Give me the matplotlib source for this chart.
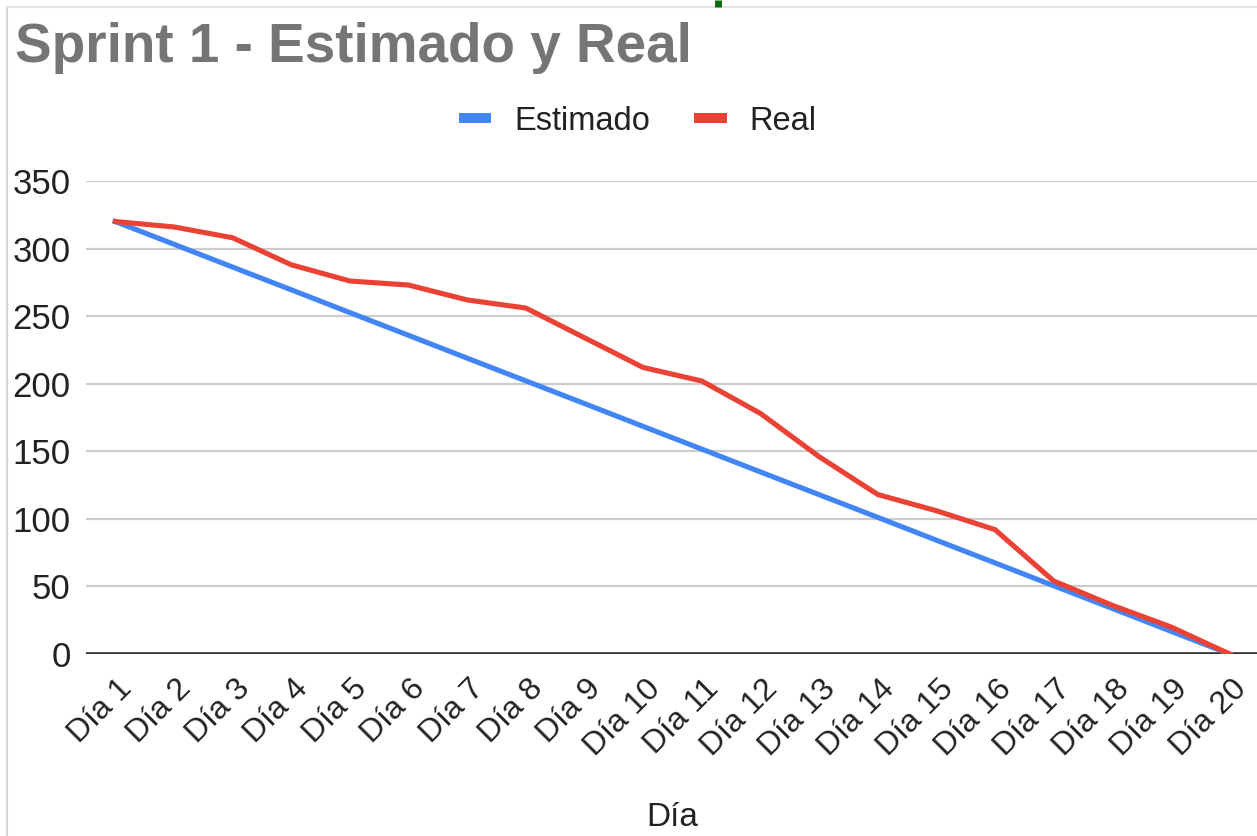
import matplotlib
matplotlib.use("Agg")
import matplotlib.pyplot as plt
from matplotlib.transforms import ScaledTranslation
from matplotlib.lines import Line2D

plt.rcParams['font.family'] = ['Liberation Sans', 'DejaVu Sans']

# ---- data ----
dias = ["Día 1", "Día 2", "Día 3", "Día 4", "Día 5", "Día 6", "Día 7", "Día 8",
        "Día 9", "Día 10", "Día 11", "Día 12", "Día 13", "Día 14", "Día 15",
        "Día 16", "Día 17", "Día 18", "Día 19", "Día 20"]
estimado = [320, 303.2, 286.3, 269.5, 252.6, 235.8, 218.9, 202.1, 185.3, 168.4,
            151.6, 134.7, 117.9, 101.1, 84.2, 67.4, 50.5, 33.7, 16.8, 0]
real = [320, 316, 308, 288, 276, 273, 262, 256, 234, 212,
        202, 178, 146, 118, 106, 92, 54, 36, 20, 0]
y_ticks = [0, 50, 100, 150, 200, 250, 300, 350]
titulo = "Sprint 1 - Estimado y Real"
x_titulo = "Día"
series_names = ["Estimado", "Real"]

W, H = 1257, 836
DPI = 100
fig = plt.figure(figsize=(W / DPI, H / DPI), dpi=DPI)
fig.patch.set_facecolor("white")

def px(x0, y0, w, h):
    return [x0 / W, 1 - (y0 + h) / H, w / W, h / H]

ax = fig.add_axes(px(86, 181, 1173, 473))
xs = list(range(len(dias)))

BLUE = "#4285F4"
RED = "#EA4335"
ax.plot(xs, estimado, color=BLUE, lw=3.7, solid_joinstyle="round", zorder=3)
ax.plot(xs, real, color=RED, lw=3.7, solid_joinstyle="round", zorder=4)

ax.set_xlim(-0.5, len(dias) - 0.5)
ax.set_ylim(0, 350)
ax.set_yticks(y_ticks)
ax.set_yticklabels([str(v) for v in y_ticks])
ax.grid(axis="y", color="#cccccc", lw=1.6, zorder=0)
ax.set_axisbelow(True)
for s in ["top", "right", "left", "bottom"]:
    ax.spines[s].set_visible(False)
ax.axhline(0, color="#333333", lw=2.6, zorder=2)

ax.tick_params(axis="y", length=0, pad=11.0, labelsize=25, labelcolor="#222222")
ax.set_xticks(xs)
ax.set_xticklabels(dias, rotation=45, ha="right", va="baseline",
                   rotation_mode="anchor")
ax.tick_params(axis="x", length=0, pad=36 / 1.389, labelsize=23, labelcolor="#222222")
off = ScaledTranslation(18 / DPI, 0, fig.dpi_scale_trans)
for lab in ax.get_xticklabels():
    lab.set_transform(lab.get_transform() + off)

ax.set_xlabel(x_titulo, fontsize=24, color="#222222")
ax.xaxis.set_label_coords(0.5, (654 - 818) / 473)
ax.xaxis.label.set_verticalalignment("center")

fig.text(15 / W, 1 - 62 / H, titulo, fontsize=39.5, fontweight="bold",
         color="#757575", ha="left", va="baseline")

handles = [Line2D([], [], color=BLUE, lw=7.2, solid_capstyle="butt"),
           Line2D([], [], color=RED, lw=7.2, solid_capstyle="butt")]
fig.legend(handles, series_names, loc="center", bbox_to_anchor=(637.5 / W, 1 - 121 / H),
           ncol=2, frameon=False, fontsize=23.5, handlelength=1.0,
           handletextpad=0.7, columnspacing=1.35, labelcolor="#222222")

# screenshot frame decorations
fig.add_artist(Line2D([7 / W, 7 / W], [0, 1 - 7 / H], color="#d9d9d9", lw=1.5))
fig.add_artist(Line2D([7 / W, 1], [1 - 7 / H, 1 - 7 / H], color="#e3e3e3", lw=1.5))
fig.add_artist(Line2D([718 / W, 718 / W], [1, 1 - 7 / H], color="#0b6b0b", lw=5,
                      solid_capstyle="butt"))

fig.savefig("out.png", dpi=DPI, facecolor="white")
